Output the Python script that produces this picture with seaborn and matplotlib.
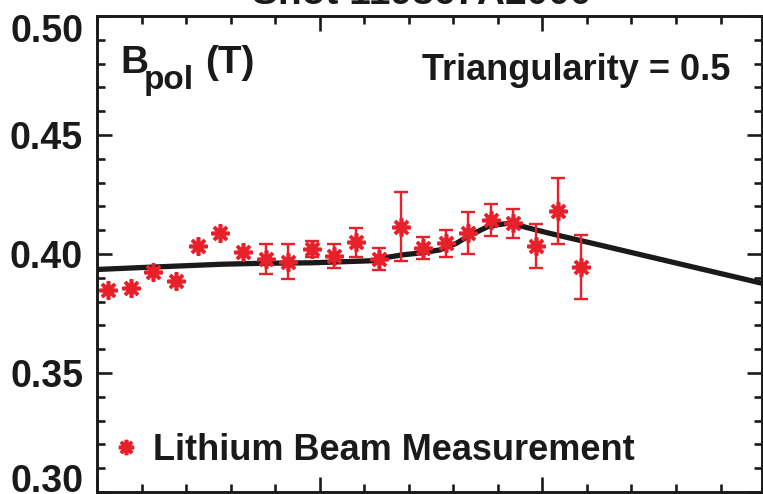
import numpy as np
import pandas as pd
import matplotlib
matplotlib.use("Agg")
import matplotlib.pyplot as plt
from matplotlib.ticker import MultipleLocator, NullFormatter
from matplotlib.transforms import ScaledTranslation
import seaborn as sns

# ---- data ----
meas_R = [2.2024, 2.2076, 2.2126, 2.2177, 2.2227, 2.2277, 2.2328, 2.2380,
          2.2429, 2.2482, 2.2532, 2.2581, 2.2632, 2.2683, 2.2732, 2.2784,
          2.2834, 2.2885, 2.2935, 2.2986, 2.3036, 2.3087]
meas_B = [0.3849, 0.3856, 0.3923, 0.3888, 0.4035, 0.4089, 0.4010, 0.3978,
          0.3968, 0.4021, 0.3993, 0.4049, 0.3979, 0.4115, 0.4026, 0.4045,
          0.4087, 0.4143, 0.4130, 0.4035, 0.4182, 0.3947]
meas_err = [0.0, 0.0, 0.0, 0.0, 0.0, 0.0, 0.0, 0.0062,
            0.0073, 0.0035, 0.0050, 0.0060, 0.0048, 0.0146, 0.0045, 0.0057,
            0.0088, 0.0068, 0.0061, 0.0092, 0.0138, 0.0134]

model_R = [2.2000, 2.2112, 2.2280, 2.2370, 2.2482, 2.2623, 2.2652, 2.2684,
           2.2729, 2.2769, 2.2807, 2.2834, 2.2881, 2.2935, 2.2957, 2.3016,
           2.3128, 2.3493]
model_B = [0.3935, 0.3944, 0.3957, 0.3961, 0.3963, 0.3972, 0.3986, 0.3996,
           0.4005, 0.4017, 0.4045, 0.4076, 0.4118, 0.4132, 0.4115, 0.4087,
           0.4038, 0.3877]

yticks = [0.30, 0.35, 0.40, 0.45, 0.50]
ytick_labels = ["0.30", "0.35", "0.40", "0.45", "0.50"]

title_text = "Shot 119867A2000"
label_main = "B"
label_sub = "pol"
label_unit = "(T)"
shape_label = "Triangularity = 0.5"
legend_label = "Lithium Beam Measurement"

# ---- style ----
sns.set_theme(style="ticks")
plt.rcParams["font.family"] = ["Liberation Sans", "DejaVu Sans"]
plt.rcParams["font.weight"] = "bold"

red = "#e8202a"
ink = "#1a1a1a"
W, H = 763, 494
fig = plt.figure(figsize=(W / 100, H / 100), dpi=100)
ax = fig.add_axes([97 / W, 2 / H, (762 - 97) / W, (492 - 16) / H])

model_df = pd.DataFrame({"R": model_R, "B": model_B})
sns.lineplot(data=model_df, x="R", y="B", ax=ax, color=ink, lw=3.8,
             sort=False, estimator=None, solid_capstyle="butt")

meas_df = pd.DataFrame({"R": meas_R, "B": meas_B, "err": meas_err})
eb = meas_df[meas_df["err"] > 0]
ax.errorbar(eb["R"], eb["B"], yerr=eb["err"], fmt="none", ecolor=red,
            elinewidth=1.7, capsize=5, capthick=1.7, zorder=3)
ax.plot(meas_df["R"], meas_df["B"], ls="none", marker=(8, 2, 0), ms=13,
        mew=2.6, mec=red, color=red, zorder=4, label=legend_label)

ax.set_xlim(2.20, 2.3493)
ax.set_ylim(0.30, 0.50)
ax.set_yticks(yticks)
ax.set_yticklabels(ytick_labels, fontsize=27, fontweight="bold", color=ink)
ax.yaxis.set_minor_locator(MultipleLocator(0.01))
ax.xaxis.set_major_locator(MultipleLocator(0.05))
ax.xaxis.set_minor_locator(MultipleLocator(0.01))
ax.xaxis.set_major_formatter(NullFormatter())
ax.set_xlabel("")
ax.set_ylabel("")
ax.tick_params(which="both", direction="in", top=True, right=True,
               color=ink, width=1.9)
ax.tick_params(axis="y", which="major", length=11, pad=10)
ax.tick_params(axis="x", which="major", length=11)
ax.tick_params(which="minor", length=6)
for s in ax.spines.values():
    s.set_linewidth(2.1)
    s.set_color(ink)

# shift the edge tick labels inward so they stay inside the picture
for lab in ax.get_yticklabels():
    txt = lab.get_text()
    if txt == "0.50":
        lab.set_transform(lab.get_transform() + ScaledTranslation(0, -12 / 100, fig.dpi_scale_trans))
    elif txt == "0.30":
        lab.set_transform(lab.get_transform() + ScaledTranslation(0, 14 / 100, fig.dpi_scale_trans))

def ftext(x, y, s, size, **kw):
    return fig.text(x / W, 1 - y / H, s, fontsize=size, fontweight="bold",
                    color=ink, va="baseline", **kw)

ftext(120, 73, label_main, 28, ha="left")
ftext(144, 89, label_sub, 24, ha="left")
ftext(205, 73, label_unit, 28, ha="left")
ftext(730, 80, shape_label, 26, ha="right")

leg = ax.legend(loc="lower left", frameon=False, fontsize=26, handlelength=0.6,
                handletextpad=0.45, borderaxespad=0.0, markerscale=0.85,
                bbox_to_anchor=(0.005, 0.02))
for t in leg.get_texts():
    t.set_color(ink)
    t.set_fontweight("bold")

ftext(422, 4, title_text, 28, ha="center")

fig.savefig("out.png", dpi=100)
